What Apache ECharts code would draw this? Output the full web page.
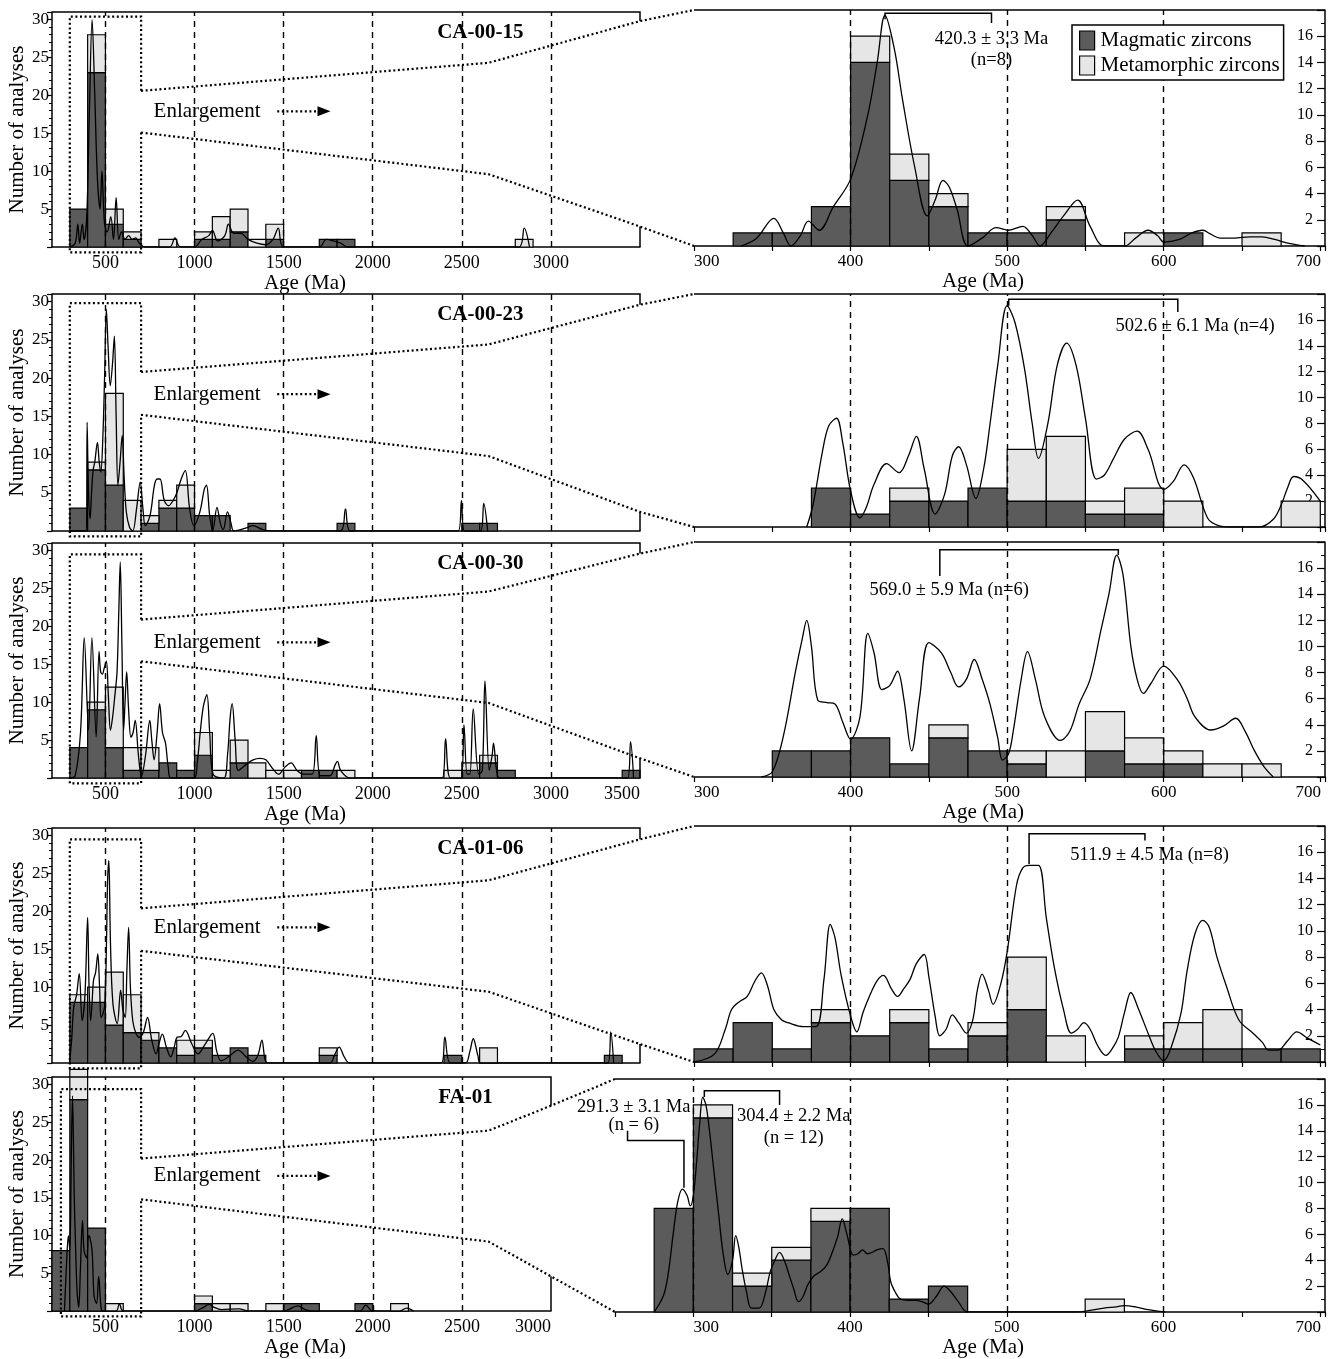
<!DOCTYPE html>
<html><head><meta charset="utf-8">
<script src="https://cdn.jsdelivr.net/npm/echarts@6/dist/echarts.min.js"></script>
<style>html,body{margin:0;padding:0;background:#fff}#c{width:1335px;height:1359px}</style>
</head><body><div id="c"></div>
<script>
// ---------------- DATA ----------------
const binWidthLeft = 100, binWidthRight = 25;
const legendNames = ['Magmatic zircons', 'Metamorphic zircons'];
const sampleNames = ['CA-00-15', 'CA-00-23', 'CA-00-30', 'CA-01-06', 'FA-01'];
// bins: [bin start (Ma), magmatic count, total count]
const ca0015LeftBins = [[300,5,5],[400,23,28],[500,3,5],[600,1,2],[800,0,1],[1000,1,2],[1100,1,4],[1200,2,5],[1300,0,1],[1400,1,3],[1700,1,1],[1800,1,1],[2800,0,1]];
const ca0015RightBins = [[325,1,1],[350,1,1],[375,3,3],[400,14,16],[425,5,7],[450,3,4],[475,1,1],[500,1,1],[525,2,3],[575,0,1],[600,1,1],[650,0,1]];
const ca0023LeftBins = [[300,3,3],[400,8,9],[500,6,18],[600,0,4],[700,1,2],[800,3,4],[900,3,6],[1000,2,2],[1100,2,2],[1300,1,1],[1800,1,1],[2500,1,1],[2600,1,1]];
const ca0023RightBins = [[375,3,3],[400,1,1],[425,2,3],[450,2,2],[475,3,3],[500,2,6],[525,2,7],[550,1,2],[575,1,3],[600,0,2],[675,0,2]];
const ca0030LeftBins = [[300,4,4],[400,9,10],[500,4,12],[600,1,4],[700,1,4],[800,2,2],[900,1,1],[1000,3,6],[1100,0,1],[1200,2,5],[1300,0,2],[1400,0,1],[1500,0,1],[1600,1,1],[1700,1,1],[1800,0,1],[2400,0,1],[2500,1,2],[2600,2,3],[2700,1,1],[3400,1,1]];
const ca0030RightBins = [[350,2,2],[375,2,2],[400,3,3],[425,1,1],[450,3,4],[475,2,2],[500,1,2],[525,0,2],[550,2,5],[575,1,3],[600,1,2],[625,0,1],[650,0,1]];
const ca0106LeftBins = [[300,8,9],[400,8,10],[500,5,12],[600,4,9],[700,3,4],[800,2,2],[900,1,3],[1000,2,3],[1100,1,1],[1200,2,2],[1300,1,1],[1700,1,2],[2400,1,1],[2600,0,2],[3300,1,1]];
const ca0106RightBins = [[300,1,1],[325,3,3],[350,1,1],[375,3,4],[400,2,2],[425,3,4],[450,1,1],[475,2,3],[500,4,8],[525,0,2],[575,1,2],[600,1,3],[625,1,4],[650,1,1],[675,1,1]];
const fa01LeftBins = [[200,8,8],[300,28,32],[400,11,11],[500,0,1],[1000,1,2],[1100,0,1],[1200,0,1],[1400,0,1],[1500,1,1],[1600,1,1],[1900,1,1],[2100,0,1]];
const fa01RightBins = [[275,8,8],[300,15,16],[325,2,3],[350,4,5],[375,7,8],[400,8,8],[425,1,1],[450,2,2],[550,0,1]];

// probability density curves: [age (Ma), value]
const ca0015LeftCurve = [[300,0],[330,0.5],[345,3],[355,0.5],[370,3],[380,1],[395,4],[410,18],[425,30],[440,20],[455,9],[470,5],[480,10],[495,3],[510,2],[530,4],[545,1],[560,6.5],[575,1],[590,2],[610,1],[630,1.5],[650,1],[670,1.2],[690,0.5],[720,0],[860,0],[890,1.2],[920,0],[1000,0],[1040,1],[1080,1.5],[1100,2.2],[1130,0.8],[1170,1.5],[1190,3],[1220,1.8],[1260,1.8],[1300,1],[1350,0.5],[1400,0.3],[1440,1],[1470,2.5],[1500,0],[1700,0],[1740,1],[1780,0.8],[1820,0.5],[1860,0],[2820,0],[2850,2.5],[2880,0]];
const ca0015RightCurve = [[330,0],[340,0.6],[351,2.1],[357,1],[362,0],[368,0.8],[373,1.9],[380,1.2],[389,3],[400,5.1],[411,10],[417,14],[422,17.6],[428,15],[433,11.3],[441,6],[449,2.3],[454,3.5],[459,5],[463,4.5],[468,2.8],[475,0],[484,0.6],[493,1.4],[501,1.2],[510,1.5],[516,0.8],[521,0],[528,1],[536,2.3],[545,3.5],[553,1.5],[562,0],[575,0],[582,0.6],[590,1.2],[596,0.8],[600,0.3],[610,0.5],[618,1],[625,1.2],[630,0.9],[636,0.6],[645,0.6],[655,0.7],[663,0.7],[671,0.5],[680,0.2],[690,0]];
const ca0023LeftCurve = [[300,0],[393,0],[397,14.2],[405,5],[414,1.6],[422,5],[431,8],[440,9],[455,11.6],[465,9],[474,7.7],[485,12],[495,20],[505,29],[515,24],[527,19],[540,22],[550,25.5],[560,15],[570,6],[582,9],[594,12.5],[605,7],[617,2.5],[635,0.5],[653,0],[675,3],[695,6.4],[710,3],[724,0.7],[750,2],[775,6],[790,6.8],[806,6.8],[830,4],[854,3.3],[880,4],[901,5],[925,6.8],[948,7.9],[972,3],[996,0.7],[1030,2.5],[1055,5.5],[1067,6],[1085,2],[1102,0],[1126,3.1],[1145,1],[1161,0.2],[1185,2.5],[1205,1],[1220,0],[1290,0.4],[1326,0.7],[1380,0.2],[1420,0],[1820,0],[1847,2.9],[1875,0],[2480,0],[2498,4],[2515,0],[2605,0],[2623,3.6],[2645,0]];
const ca0023RightCurve = [[372,0],[376,1.7],[382,5.8],[386,7.8],[391,8.4],[395,6.5],[400,2.8],[406,0.7],[410,1.5],[415,3.3],[423,4.9],[431,4.2],[437,5.5],[442,7],[447,4.5],[454,1],[460,2.5],[465,5.5],[469,6.2],[474,4.8],[480,2.2],[485,4.5],[489,7.9],[494,12.5],[500,17.1],[505,15.8],[511,12.3],[516,8],[520,5.3],[526,8],[532,12.5],[538,14.2],[544,12.5],[550,8.4],[557,3.7],[562,4],[568,5.3],[575,6.8],[583,7.4],[590,6],[600,2.9],[606,3.5],[613,4.8],[619,3.8],[628,0.7],[635,0.1],[642,0],[661,0],[670,0.6],[675,1.7],[679,3],[683,3.9],[689,3.6],[700,2]];
const ca0030LeftCurve = [[298,0],[330,0.3],[360,6],[381,18.5],[405,6.3],[424,18.5],[448,5.4],[464,16.7],[473,14],[483,13.7],[493,14.5],[505,15.4],[516,11],[528,6.3],[540,8],[552,10.7],[565,14],[575,22],[583,28.5],[592,18],[602,6.3],[610,10],[619,14],[630,9],[643,5.4],[655,6],[667,7.6],[685,3],[702,0.2],[725,3],[749,7.6],[760,5],[773,2.4],[790,6],[804,9.8],[820,6],[837,4.6],[852,1.5],[868,0],[998,0],[1015,2],[1033,6.3],[1050,9.5],[1069,11],[1085,6],[1104,0.5],[1164,0],[1185,3],[1200,8],[1211,9.8],[1228,5],[1246,1],[1290,1.8],[1329,2.4],[1365,2.6],[1400,2.4],[1440,1.2],[1471,0.5],[1510,1.5],[1542,2],[1575,1],[1613,0.5],[1660,0.5],[1683,5.6],[1707,0.3],[1760,0.3],[1790,1.8],[1802,2.2],[1820,1],[1873,0],[2390,0],[2409,5.2],[2436,0],[2495,0],[2512,7],[2530,0.5],[2545,0.5],[2564,9.1],[2595,0.5],[2615,1],[2630,12.8],[2654,1],[2670,3],[2678,4.6],[2695,1],[2713,0],[3430,0],[3447,4.8],[3464,0]];
const ca0030RightCurve = [[343,0],[350,0.4],[357,3.1],[365,8.2],[369,10.5],[372,12],[375,10],[379,5.9],[385,5.7],[390,5.6],[395,4.2],[400,2.9],[406,4.6],[411,11],[415,9.5],[420,6.7],[425,7],[430,8.1],[434,6],[439,2],[444,6],[450,10.3],[458,9.5],[464,8],[469,6.9],[474,7.5],[479,9],[484,7.5],[489,5.6],[494,3],[497,1.3],[501,1.8],[504,3.6],[509,7.5],[513,9.6],[518,7.5],[524,4.6],[534,2.8],[540,3.5],[546,5.6],[553,7.5],[560,11.3],[565,14],[570,17],[574,15.5],[579,10],[583,7.5],[587,6.4],[592,7.2],[600,8.5],[609,7.4],[615,6],[620,4.6],[630,3.6],[638,3.9],[646,4.5],[652,3.5],[658,2],[664,0.8],[670,0]];
const ca0106LeftCurve = [[298,0],[310,3],[322,7.4],[338,9],[353,11.8],[369,5.6],[385,9],[400,19.2],[408,10],[417,5.6],[425,8],[433,10.9],[445,12],[457,14.4],[467,10],[476,6],[495,7.4],[505,15],[512,24],[519,26.7],[528,16],[542,7.8],[566,5.2],[585,9.6],[598,7],[611,6],[620,12],[630,17.9],[640,10],[653,5.6],[670,4],[689,3.4],[712,4],[736,6],[760,3],[784,1.2],[800,2.5],[819,3.8],[843,2],[866,0.8],[885,2],[902,3.4],[925,3.5],[948,4.3],[985,2.5],[1019,1.2],[1060,2.5],[1102,3.9],[1125,1.5],[1149,0.3],[1200,1],[1244,1.7],[1290,0.8],[1326,0.2],[1355,1],[1378,3],[1395,0.5],[1409,0],[1760,0],[1785,1],[1812,2.1],[1840,0.8],[1871,0],[2385,0],[2405,3.4],[2436,0],[2520,0],[2545,1.5],[2564,3.2],[2590,1],[2606,0],[3320,0],[3336,4.1],[3352,0]];
const ca0106RightCurve = [[300,0],[313,0.6],[320,2.5],[324,4],[329,4.6],[334,5],[339,6.2],[343,6.8],[347,5.8],[351,4],[356,3.2],[360,3],[370,2.7],[378,2.7],[383,6.3],[387,10.5],[390,9.5],[394,6.6],[400,3.5],[404,2.3],[408,3.8],[412,5],[417,6.2],[421,6.6],[426,5.6],[430,5],[434,5.6],[438,6.3],[442,7.5],[447,8.2],[450,6.5],[454,3.5],[457,2],[461,2.5],[465,3.6],[469,3],[474,2.2],[478,3.2],[481,5.5],[484,6.7],[488,5.5],[491,4.4],[496,6],[500,8.4],[506,13.5],[510,14.8],[514,15],[520,15],[525,11],[530,7.3],[536,4],[541,2.2],[545,2.5],[549,3],[553,2.5],[558,1.2],[563,0.5],[567,1],[571,1.9],[575,3.8],[579,5.3],[584,4],[590,2.2],[595,0.8],[600,0.1],[605,1.2],[611,3.7],[615,7],[620,9.8],[625,10.8],[629,10.3],[634,8],[640,5.8],[648,3.2],[657,2.2],[663,1.5],[667,0.9],[673,0.9],[679,1.6],[685,2.3],[692,1.8],[700,1.3]];
const fa01LeftCurve = [[270,0],[285,8],[292,10],[300,8],[308,20],[315,28.5],[325,15],[333,8],[340,3],[350,0.5],[360,6],[371,12],[380,8],[395,7],[405,10],[412,9.8],[425,8],[436,2],[450,1],[462,4.6],[475,0.5],[485,0],[560,0],[578,1],[600,0],[1000,0],[1050,0.5],[1080,0.9],[1110,0.5],[1150,0.2],[1250,0.3],[1300,0],[1500,0],[1580,0.7],[1620,0.2],[1660,0],[1930,0],[1960,0.8],[2000,0],[2150,0],[2190,0.4],[2230,0]];
const fa01RightCurve = [[275,0],[281,1.3],[284,3],[287,5.9],[290,8.5],[293,9.5],[296,9],[298,8.2],[300,9],[302,11.5],[304,14.5],[306,16.6],[308,16],[310,14.3],[313,11],[316,7.7],[319,4.5],[322,2.9],[325,4],[327,5.9],[329,5],[331,3.4],[334,1.5],[337,0.3],[342,0.3],[346,1.5],[349,3.1],[352,4],[355,4.6],[358,4],[361,2.9],[364,1.8],[367,0.8],[370,1.2],[373,2.1],[377,2.8],[381,3.1],[385,3.6],[388,4.4],[392,5.8],[395,7.2],[398,6],[402,4.4],[405,4.5],[408,4.8],[411,4.5],[414,4.6],[417,4.8],[421,4.9],[424,3.8],[426,2.3],[429,1.5],[432,1],[437,0.9],[442,0.9],[446,0.8],[450,0.6],[455,1.2],[460,2],[464,1.6],[469,0.8],[475,0],[544,0],[552,0.1],[562,0.3],[570,0.4],[575,0.5],[582,0.4],[589,0.2],[601,0]];

// tick labels and reference lines
const leftTickLabels = [500, 1000, 1500, 2000, 2500, 3000];
const leftTickLabelsLong = [500, 1000, 1500, 2000, 2500, 3000, 3500];
const rightTickLabels = [300, 400, 500, 600, 700];
const leftDashes = [500, 1000, 1500, 2000, 2500, 3000];
const leftDashesShort = [500, 1000, 1500, 2000, 2500];
const rightDashes = [400, 500, 600];
const rightDashesFA = [300, 400, 500, 600];

// age annotations: texts
const ageTexts = [
  [['420.3 ± 3.3 Ma', 490, 15.8], ['(n=8)', 490, 14.2]],
  [['502.6 ± 6.1 Ma (n=4)', 620, 15.5]],
  [['569.0 ± 5.9 Ma (n=6)', 463, 14.3]],
  [['511.9 ± 4.5 Ma (n=8)', 591, 15.8]],
  [['291.3 ± 3.1 Ma', 262, 15.8], ['(n = 6)', 262, 14.4], ['304.4 ± 2.2 Ma', 364, 15.1], ['(n = 12)', 364, 13.4]]
];
// ---------------- LAYOUT ----------------
const FONT = '"Liberation Serif","Times New Roman",serif';
const rows = [
  {lb:ca0015LeftBins, rb:ca0015RightBins, lc:ca0015LeftCurve, rc:ca0015RightCurve, lTop:12, lBot:247, lMax:3500, rTop:10, rBot:246, rMin:300, rLeft:694, lLabels:leftTickLabels, rLabels:rightTickLabels, lDash:leftDashes, rDash:rightDashes, fTop:[20.6,24.3,29.8], fBot:[15.1,9.6,2.7], rectTop:30.4, rectLeft:300,
   brackets:[[[422,17.3],[422,17.75],[490,17.75],[490,17.0]]]},
  {lb:ca0023LeftBins, rb:ca0023RightBins, lc:ca0023LeftCurve, rc:ca0023RightCurve, lTop:294, lBot:531, lMax:3500, rTop:294, rBot:527, rMin:300, rLeft:694, lLabels:[], rLabels:[], lDash:leftDashes, rDash:rightDashes, fTop:[20.8,24.4,29.6], fBot:[15.2,9.8,2.5], rectTop:29.8, rectLeft:300,
   brackets:[[[501,17.1],[501,17.6],[609,17.6],[609,16.6]]]},
  {lb:ca0030LeftBins, rb:ca0030RightBins, lc:ca0030LeftCurve, rc:ca0030RightCurve, lTop:543, lBot:778, lMax:3500, rTop:542, rBot:777, rMin:300, rLeft:694, lLabels:leftTickLabelsLong, rLabels:rightTickLabels, lDash:leftDashes, rDash:rightDashes, fTop:[20.9,24.6,29.6], fBot:[15.4,9.9,2.6], rectTop:29.5, rectLeft:300,
   brackets:[[[457,15.4],[457,17.4],[571,17.4],[571,17.0]]]},
  {lb:ca0106LeftBins, rb:ca0106RightBins, lc:ca0106LeftCurve, rc:ca0106RightCurve, lTop:828, lBot:1063, lMax:3500, rTop:826, rBot:1062, rMin:300, rLeft:694, lLabels:[], rLabels:[], lDash:leftDashes, rDash:rightDashes, fTop:[20.4,24.1,29.5], fBot:[14.8,9.4,2.5], rectTop:29.5, rectLeft:300,
   brackets:[[[514,15.1],[514,17.4],[588,17.4],[588,16.9]]]},
  {lb:fa01LeftBins, rb:fa01RightBins, lc:fa01LeftCurve, rc:fa01RightCurve, lTop:1077, lBot:1313, lMax:3000, rTop:1079, rBot:1316, rMin:250, rLeft:615, lLabels:leftTickLabels, rLabels:rightTickLabels, lDash:leftDashesShort, rDash:rightDashesFA, fTop:[20.2,23.9,27.2], fBot:[14.8,9.2,4.6], rectTop:29.4, rectLeft:250,
   brackets:[[[258,14.0],[258,13.25],[294,13.25],[294,9.6]], [[307,16.6],[307,17.1],[355,17.1],[355,16.0]]]}
];
const L_YMAX = 31, R_YMAX = 18, R_XMAX = 703, PX_PER_MA_LEFT = 0.1782;
const DARK = '#5b5b5b', LIGHT = '#e6e6e6';

function barData(bins, w, part) {
  const out = [];
  bins.forEach(b => {
    const s = b[0], m = b[1], t = b[2];
    if (part === 'mag' && m > 0) out.push([s, s + w, 0, m]);
    if (part === 'meta' && t > m) out.push([s, s + w, m, t]);
  });
  return out;
}
function rectRenderer(fill) {
  return function (params, api) {
    const p0 = api.coord([api.value(0), api.value(3)]);
    const p1 = api.coord([api.value(1), api.value(2)]);
    return {type: 'rect', shape: {x: p0[0], y: p0[1], width: p1[0] - p0[0], height: p1[1] - p0[1]},
      style: {fill: fill, stroke: '#000', lineWidth: 1.2}};
  };
}

const grids = [], xAxes = [], yAxes = [], series = [];
const axisLineStyle = {color: '#000', width: 1.5};
rows.forEach((R, r) => {
  const li = 2 * r, ri = 2 * r + 1;
  const lW = Math.round((R.lMax - 200) * PX_PER_MA_LEFT);
  grids.push({left: 52, top: R.lTop, width: lW, height: R.lBot - R.lTop});
  grids.push({left: R.rLeft, top: R.rTop, width: 1325 - R.rLeft, height: R.rBot - R.rTop});
  const showAgeName = R.lLabels.length > 0;
  const lCenter = 52 + lW / 2, lWant = 305;
  const lPad = lWant < lCenter ? [0, 2 * (lCenter - lWant), 0, 0] : [0, 0, 0, 2 * (lWant - lCenter)];
  xAxes.push({gridIndex: li, type: 'value', min: 200, max: R.lMax, interval: 100,
    axisLine: {lineStyle: axisLineStyle}, axisTick: {show: false}, splitLine: {show: false},
    axisLabel: {show: showAgeName, formatter: v => R.lLabels.indexOf(v) >= 0 ? String(v) : '',
      fontFamily: FONT, fontSize: 18, color: '#000', margin: 7, alignMaxLabel: 'right', hideOverlap: false},
    name: showAgeName ? 'Age (Ma)' : '', nameLocation: 'middle', nameGap: 23,
    nameTextStyle: {fontFamily: FONT, fontSize: 21, color: '#000', padding: lPad}});
  const rCenter = (R.rLeft + 1325) / 2, rWant = 983;
  const rPad = rWant < rCenter ? [0, 2 * (rCenter - rWant), 0, 0] : [0, 0, 0, 2 * (rWant - rCenter)];
  xAxes.push({gridIndex: ri, type: 'value', min: R.rMin, max: R_XMAX, interval: 50,
    axisLine: {lineStyle: axisLineStyle}, axisTick: {show: true, length: 5, lineStyle: {color: '#000', width: 1.2}},
    splitLine: {show: false},
    axisLabel: {show: R.rLabels.length > 0,
      formatter: v => {
        if (R.rLabels.indexOf(v) < 0) return '';
        if (v === 700) return '{r|700}';
        if (v === 300 && R.rMin < 300) return '{l|300}';
        return String(v);
      },
      rich: {r: {fontFamily: FONT, fontSize: 17, color: '#000', padding: [0, 24, 0, 0]},
             l: {fontFamily: FONT, fontSize: 17, color: '#000', padding: [0, 0, 0, 26]}},
      fontFamily: FONT, fontSize: 17, color: '#000', margin: 7, alignMinLabel: R.rMin === 300 ? 'left' : null, hideOverlap: false},
    name: showAgeName ? 'Age (Ma)' : '', nameLocation: 'middle', nameGap: 25,
    nameTextStyle: {fontFamily: FONT, fontSize: 21, color: '#000', padding: rPad}});
  yAxes.push({gridIndex: li, type: 'value', min: 0, max: L_YMAX, interval: 5,
    axisLine: {show: true, lineStyle: axisLineStyle}, axisTick: {show: true, length: 5, lineStyle: {color: '#000', width: 1.2}},
    minorTick: {show: true, splitNumber: 5, length: 3, lineStyle: {color: '#000', width: 1}},
    splitLine: {show: false},
    axisLabel: {formatter: v => (v > 0 && v <= 30) ? String(v) : '', fontFamily: FONT, fontSize: 17, color: '#000', margin: 3},
    name: 'Number of analyses', nameLocation: 'middle', nameGap: 22,
    nameTextStyle: {fontFamily: FONT, fontSize: 21, color: '#000'}});
  yAxes.push({gridIndex: ri, type: 'value', position: 'right', min: 0, max: R_YMAX, interval: 2,
    axisLine: {show: true, lineStyle: axisLineStyle},
    axisTick: {show: true, inside: true, length: 8, lineStyle: {color: '#000', width: 1.2}},
    minorTick: {show: true, splitNumber: 2, length: 4, lineStyle: {color: '#000', width: 1}},
    splitLine: {show: false},
    axisLabel: {inside: true, margin: 12, formatter: v => (v > 0 && v < 18) ? String(v) : '', fontFamily: FONT, fontSize: 16, color: '#000'}});

  [[li, R.lb, binWidthLeft, R.lc, R.lDash, 200], [ri, R.rb, binWidthRight, R.rc, R.rDash, R.rMin]].forEach(cfg => {
    const gi = cfg[0];
    series.push({type: 'line', xAxisIndex: gi, yAxisIndex: gi, data: [[cfg[5], 0]], symbol: 'none', silent: true, z: 1,
      lineStyle: {opacity: 0},
      markLine: {silent: true, symbol: 'none', animation: false, label: {show: false},
        lineStyle: {color: '#000', type: [6, 5], width: 1.4},
        emphasis: {disabled: true},
        data: cfg[4].map(v => ({xAxis: v}))}});
    series.push({type: 'custom', name: legendNames[0], xAxisIndex: gi, yAxisIndex: gi, clip: false, silent: true, z: 3,
      data: barData(cfg[1], cfg[2], 'mag'), renderItem: rectRenderer(DARK), encode: {x: [0, 1], y: [2, 3]},
      itemStyle: {color: DARK, borderColor: '#000', borderWidth: 1}});
    series.push({type: 'custom', name: legendNames[1], xAxisIndex: gi, yAxisIndex: gi, clip: false, silent: true, z: 3,
      data: barData(cfg[1], cfg[2], 'meta'), renderItem: rectRenderer(LIGHT), encode: {x: [0, 1], y: [2, 3]},
      itemStyle: {color: LIGHT, borderColor: '#000', borderWidth: 1}});
    series.push({type: 'line', xAxisIndex: gi, yAxisIndex: gi, data: cfg[3], symbol: 'none', showSymbol: false,
      smooth: 0.35, silent: true, z: 4, lineStyle: {color: '#000', width: 1.3}});
  });
});

const chart = echarts.init(document.getElementById('c'), null, {renderer: 'canvas'});
chart.setOption({
  animation: false,
  backgroundColor: '#fff',
  textStyle: {fontFamily: FONT},
  legend: {show: true, orient: 'vertical', left: 1072, top: 25, itemWidth: 15, itemHeight: 19, itemGap: 4,
    padding: [5, 4, 4, 7], borderColor: '#000', borderWidth: 1.5, selectedMode: false, backgroundColor: '#fff', z: 20,
    textStyle: {fontFamily: FONT, fontSize: 21, color: '#000', padding: [0, 0, 0, 1]},
    data: [
      {name: legendNames[0], icon: 'rect', itemStyle: {color: DARK, borderColor: '#000', borderWidth: 1.2}},
      {name: legendNames[1], icon: 'rect', itemStyle: {color: LIGHT, borderColor: '#000', borderWidth: 1.2}}
    ]},
  grid: grids, xAxis: xAxes, yAxis: yAxes, series: series
});

// ---------------- DECORATIONS (positions via the axes' own scales) ----------------
function px(gi, x, y) { return chart.convertToPixel({gridIndex: gi}, [x, y]); }
const gfx = [];
const DOT = {stroke: '#000', lineWidth: 2.2, lineDash: [2, 2.6], fill: null};
const SOLID = {stroke: '#000', lineWidth: 1.5, fill: null};
function poly(points, style, z) { gfx.push({type: 'polyline', shape: {points: points}, style: style, z: z || 50, silent: true}); }
function txt(text, p, font, align) {
  gfx.push({type: 'text', x: p[0], y: p[1], z: 60, silent: true,
    style: {text: text, font: font, fill: '#000', textAlign: align || 'center', textVerticalAlign: 'middle', align: align || 'center', verticalAlign: 'middle'}});
}
rows.forEach((R, r) => {
  const li = 2 * r, ri = 2 * r + 1;
  // left panel frame: top edge and partial right edge
  poly([px(li, 200, L_YMAX), px(li, R.lMax, L_YMAX), px(li, R.lMax, R.fTop[2])], SOLID);
  poly([px(li, R.lMax, R.fBot[2]), px(li, R.lMax, 0)], SOLID);
  // right panel top edge
  poly([px(ri, R.rMin, R_YMAX), px(ri, R_XMAX, R_YMAX)], SOLID);
  // dotted enlargement box and funnel
  poly([px(li, 700, R.fTop[0]), px(li, 700, R.rectTop), px(li, R.rectLeft, R.rectTop), px(li, R.rectLeft, -0.7),
        px(li, 700, -0.7), px(li, 700, R.fBot[0])], DOT);
  poly([px(li, 700, R.fTop[0]), px(li, 2650, R.fTop[1]), px(li, R.lMax, R.fTop[2]), px(ri, R.rMin, R_YMAX)], DOT);
  poly([px(li, 700, R.fBot[0]), px(li, 2650, R.fBot[1]), px(li, R.lMax, R.fBot[2]), px(ri, R.rMin, 0)], DOT);
  // "Enlargement" label and dotted arrow
  const ey = 17.9;
  txt('Enlargement', px(li, 770, ey), '21px ' + FONT, 'left');
  const a0 = px(li, 1464, ey), a1 = px(li, 1690, ey);
  poly([a0, a1], DOT);
  gfx.push({type: 'polygon', z: 60, silent: true, shape: {points: [[a1[0], a1[1] - 5], [a1[0] + 13, a1[1]], [a1[0], a1[1] + 5]]}, style: {fill: '#000'}});
  // sample name
  txt(sampleNames[r], px(li, r === 4 ? 2520 : 2604, 28.3), 'bold 21px ' + FONT, 'center');
  // age brackets and texts
  R.brackets.forEach(b => poly(b.map(p => px(ri, p[0], p[1])), {stroke: '#000', lineWidth: 1.5, fill: null}, 55));
  ageTexts[r].forEach(t => txt(t[0], px(ri, t[1], t[2]), '18.5px ' + FONT, 'center'));
});
chart.setOption({graphic: {elements: gfx}});
</script></body></html>
